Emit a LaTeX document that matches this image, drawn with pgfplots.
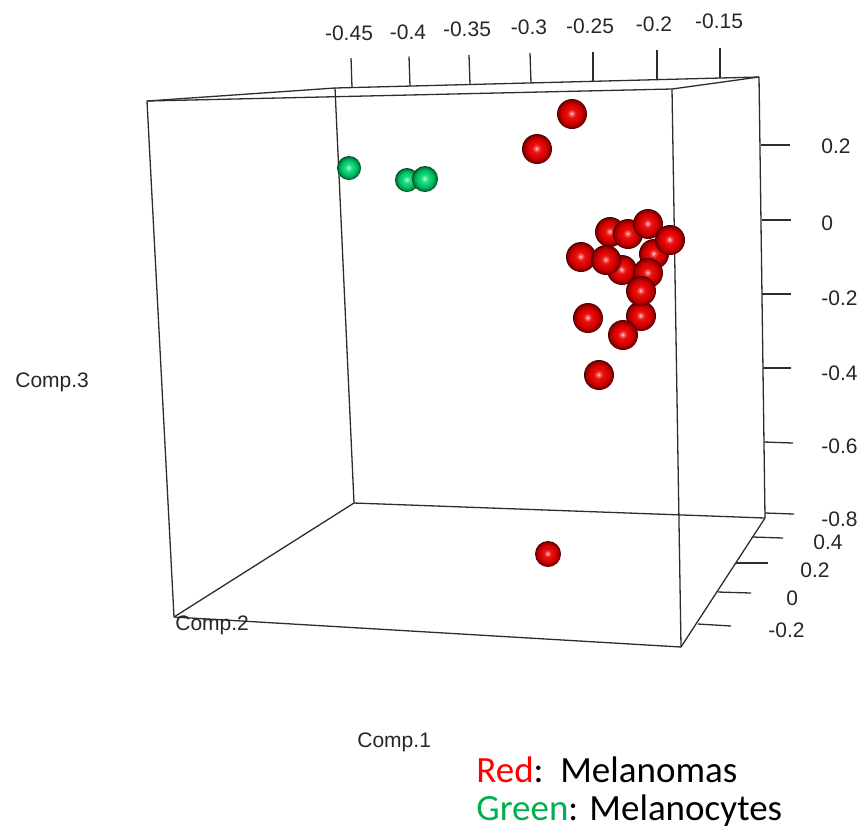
\documentclass[border=0pt]{standalone}
\usepackage{fontspec}
\setmainfont{Liberation Sans}
\newfontfamily\calib{Carlito}
\usepackage{pgfplots}
\usepackage{pgfplotstable}
\pgfplotsset{compat=1.18}

\definecolor{rs0}{RGB}{255,235,235}
\definecolor{rs1}{RGB}{248,110,110}
\definecolor{rs2}{RGB}{235,15,15}
\definecolor{rs3}{RGB}{212,0,0}
\definecolor{rs4}{RGB}{150,0,0}
\definecolor{rs5}{RGB}{60,0,0}
\definecolor{gs0}{RGB}{225,255,240}
\definecolor{gs1}{RGB}{120,240,185}
\definecolor{gs2}{RGB}{30,222,128}
\definecolor{gs3}{RGB}{0,192,100}
\definecolor{gs4}{RGB}{0,130,65}
\definecolor{gs5}{RGB}{0,55,28}
\definecolor{legred}{RGB}{255,0,0}
\definecolor{leggreen}{RGB}{0,176,80}
\definecolor{boxc}{RGB}{45,45,45}

\pgfdeclareradialshading{redsph}{\pgfpoint{-1bp}{1bp}}{color(0bp)=(rs0); color(2.5bp)=(rs1); color(7bp)=(rs2); color(16bp)=(rs3); color(22bp)=(rs4); color(25bp)=(rs5); color(50bp)=(rs5)}
\pgfdeclareradialshading{greensph}{\pgfpoint{-1bp}{1bp}}{color(0bp)=(gs0); color(2.5bp)=(gs1); color(7bp)=(gs2); color(16bp)=(gs3); color(22bp)=(gs4); color(25bp)=(gs5); color(50bp)=(gs5)}
\pgfdeclareplotmark{redball}{\pgfpathcircle{\pgfpointorigin}{\pgfplotmarksize}\pgfshadepath{redsph}{0}\pgfusepath{discard}}
\pgfdeclareplotmark{greenball}{\pgfpathcircle{\pgfpointorigin}{\pgfplotmarksize}\pgfshadepath{greensph}{0}\pgfusepath{discard}}

\tikzset{
  boxline/.style={color=boxc, line width=0.65pt, mark=none},
  lab/.style={font=\fontsize{10.5pt}{12pt}\selectfont, text=black!85, inner sep=0pt},
}

% sphere positions (projected screen coordinates of Comp.1, Comp.2, Comp.3)
\pgfplotstableread{
x y
572 114
537 149
610 232
628 234
648 224
581 257
654 254
670 240
622 270
606 260
648 273
641 316
641 291
588 318
623 335
599 375
}\redtab
\pgfplotstableread{
x y
548 554
}\redfar
\pgfplotstableread{
x y
349 168
407 180
}\greentab
\pgfplotstableread{
x y
425 179
}\greennear

\begin{document}
\begin{tikzpicture}
\begin{axis}[
  scale only axis, width=432.5pt, height=416pt,
  xmin=0, xmax=865, ymin=0, ymax=832, y dir=reverse,
  hide axis, clip=false,
]
\addplot[draw=none] coordinates {(0,0) (865,832)};
% box edges
\addplot[boxline] coordinates {(147,101) (174,617)};
\addplot[boxline] coordinates {(335,88) (354,503)};
\addplot[boxline] coordinates {(759,77) (765,518)};
\addplot[boxline] coordinates {(174,617) (681,647)};
\addplot[boxline] coordinates {(354,503) (765,518)};
\addplot[boxline] coordinates {(174,617) (354,503)};
\addplot[boxline] coordinates {(681,647) (765,518)};
\addplot[boxline] coordinates {(147,101) (672,89)};
\addplot[boxline] coordinates {(335,88) (759,77)};
\addplot[boxline] coordinates {(147,101) (335,88)};
\addplot[boxline] coordinates {(672,89) (759,77)};
% Comp.1 ticks
\addplot[boxline] coordinates {(352,87.6) (351,58)};
\addplot[boxline] coordinates {(410,86.1) (409,56.5)};
\addplot[boxline] coordinates {(470,84.5) (469,55)};
\addplot[boxline] coordinates {(531,82.9) (530,53)};
\addplot[boxline] coordinates {(593,81.3) (593,52)};
\addplot[boxline] coordinates {(657,79.6) (657,49.5)};
\addplot[boxline] coordinates {(720,78) (720,48)};
% Comp.3 ticks
\addplot[boxline] coordinates {(761,145) (790,145)};
\addplot[boxline] coordinates {(762,220) (791,220)};
\addplot[boxline] coordinates {(762,294) (791,294)};
\addplot[boxline] coordinates {(763,368) (791,368)};
\addplot[boxline] coordinates {(764,442) (793,443)};
\addplot[boxline] coordinates {(765,513) (794,514)};
% Comp.2 ticks
\addplot[boxline] coordinates {(753,537) (783,538)};
\addplot[boxline] coordinates {(736,563) (768,563)};
\addplot[boxline] coordinates {(718,592) (751,593)};
\addplot[boxline] coordinates {(698,624) (731,626)};
% spheres
\addplot[only marks, mark=greenball, mark size=6pt] table[x=x,y=y] {\greentab};
\addplot[only marks, mark=greenball, mark size=6.5pt] table[x=x,y=y] {\greennear};
\addplot[only marks, mark=redball, mark size=6.5pt] table[x=x,y=y] {\redfar};
\addplot[only marks, mark=redball, mark size=7.5pt] table[x=x,y=y] {\redtab};
% front right edge drawn over the spheres
\addplot[boxline] coordinates {(672,89) (681,647)};
% tick labels
\node[lab, anchor=center] at (axis cs:349,33) {-0.45};
\node[lab, anchor=center] at (axis cs:408,32) {-0.4};
\node[lab, anchor=center] at (axis cs:467,29) {-0.35};
\node[lab, anchor=center] at (axis cs:529,27) {-0.3};
\node[lab, anchor=center] at (axis cs:590,26) {-0.25};
\node[lab, anchor=center] at (axis cs:654,24) {-0.2};
\node[lab, anchor=center] at (axis cs:719,21) {-0.15};
\node[lab, anchor=west] at (axis cs:821,146) {0.2};
\node[lab, anchor=west] at (axis cs:821,223) {0};
\node[lab, anchor=west] at (axis cs:821,298) {-0.2};
\node[lab, anchor=west] at (axis cs:821,373) {-0.4};
\node[lab, anchor=west] at (axis cs:821,446) {-0.6};
\node[lab, anchor=west] at (axis cs:821,519) {-0.8};
\node[lab, anchor=west] at (axis cs:813,542) {0.4};
\node[lab, anchor=west] at (axis cs:800,570) {0.2};
\node[lab, anchor=west] at (axis cs:786,598) {0};
\node[lab, anchor=west] at (axis cs:768,630) {-0.2};
% axis titles
\node[lab, anchor=base west] at (axis cs:15,387.5) {Comp.3};
\node[lab, anchor=base west] at (axis cs:175,630) {Comp.2};
\node[lab, anchor=base west] at (axis cs:357,747.5) {Comp.1};
% legend text
\node[anchor=base west, inner sep=0pt, font=\calib\fontsize{18.5pt}{22pt}\selectfont] at (axis cs:476,782) {\textcolor{legred}{Red}:\ \ Melanomas};
\node[anchor=base west, inner sep=0pt, font=\calib\fontsize{18.5pt}{22pt}\selectfont] at (axis cs:476,820) {\textcolor{leggreen}{Green}: Melanocytes};
\end{axis}
\end{tikzpicture}
\end{document}
